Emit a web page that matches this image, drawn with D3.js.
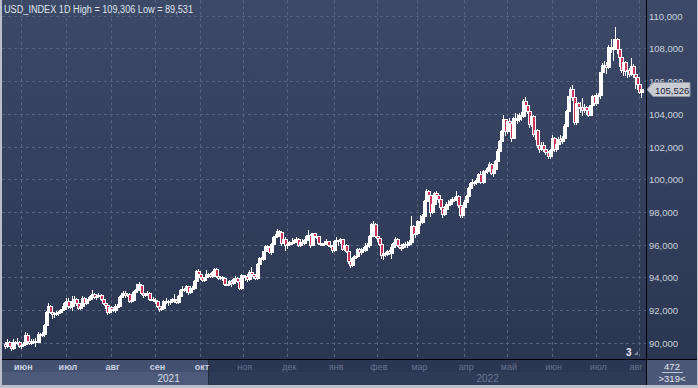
<!DOCTYPE html>
<html><head><meta charset="utf-8">
<script src="https://cdn.jsdelivr.net/npm/d3@7"></script>
<style>html,body{margin:0;padding:0;background:#2d3854;overflow:hidden}svg{display:block}</style>
</head><body>
<svg id="c" width="698" height="388"></svg>
<script>
const symbol = "USD_INDEX";
const period = "1D";
const monthNames = ["янв","фев","мар","апр","май","июн","июл","авг","сен","окт","ноя","дек"];
const yTicks = [90,92,94,96,98,100,102,104,106,108,110];
const barCountTotal = "472";
const barCountVisible = ">319<";
const markerLabel = "3";

const opens = [
89.95,89.78,90.02,89.81,89.65,90.06,89.96,90.03,
89.80,89.87,89.90,90.50,90.13,90.00,90.09,90.10,90.07,90.55,90.52,90.54,91.11,91.90,92.23,91.88,91.73,91.80,91.83,91.85,92.03,92.06,
92.44,92.58,92.23,92.22,92.55,92.67,92.41,92.13,92.23,92.74,92.41,92.65,92.68,92.87,92.97,92.79,92.84,92.91,92.65,92.43,92.29,91.86,
92.17,92.05,92.03,92.27,92.25,92.80,92.94,93.06,92.92,92.97,92.53,92.62,93.13,93.22,93.56,93.50,93.01,92.90,92.99,93.06,92.68,92.67,
92.63,92.53,92.23,92.04,92.13,92.53,92.54,92.49,92.58,92.66,92.63,92.51,92.86,93.20,93.27,93.21,93.46,93.10,93.32,93.37,93.77,94.37,
94.23,94.04,93.82,94.00,94.23,94.21,94.07,94.31,94.52,94.08,93.97,94.00,93.94,93.61,93.57,93.79,93.64,93.92,93.95,93.80,93.35,
94.13,94.05,94.06,93.89,94.35,94.22,94.05,93.95,94.83,95.16,95.13,95.58,95.91,95.83,95.54,96.03,96.48,96.50,96.83,96.78,96.08,96.36,
95.99,96.03,96.15,96.16,96.28,96.34,95.96,96.16,96.08,96.29,96.55,96.61,95.99,96.68,96.54,96.50,96.08,96.05,96.03,96.10,96.20,95.97,95.94,
95.67,96.21,96.26,96.19,96.32,95.73,95.99,95.60,94.98,94.77,95.17,95.28,95.75,95.52,95.73,95.64,95.90,96.00,96.54,97.25,97.27,
96.54,96.38,96.03,95.39,95.48,95.43,95.63,95.50,95.83,96.07,96.34,95.99,95.85,95.87,96.04,96.02,96.04,96.17,97.13,96.62,
96.71,97.43,97.40,97.77,98.66,99.30,99.06,97.98,98.47,99.13,99.02,98.78,98.27,97.87,98.20,98.47,98.46,98.64,98.81,98.79,98.98,98.40,97.81,
98.31,98.61,99.00,99.48,99.75,99.82,99.84,99.94,100.30,99.82,100.50,100.48,100.66,100.96,100.39,100.64,101.14,101.74,102.35,102.96,103.67,
102.96,103.56,103.45,102.53,103.75,103.66,103.67,103.91,103.87,104.80,104.56,104.19,103.35,103.84,102.79,103.03,102.07,101.86,102.09,101.83,101.67,101.42,
101.76,102.55,101.83,102.14,102.44,102.34,102.55,103.25,104.15,105.07,105.52,105.05,103.48,104.67,104.44,104.44,104.22,104.43,104.21,103.94,104.51,105.10,
104.69,105.14,105.13,106.53,106.98,107.01,106.89,108.10,108.05,108.04,108.55,107.97,107.46,106.70,107.16,106.61,106.68,106.46,106.92,106.43,106.27,
105.84,105.36
];
const highs = [
90.05,90.20,90.10,89.92,90.20,90.12,90.30,90.08,
89.95,90.07,90.63,90.59,90.17,90.21,90.22,90.30,90.63,90.61,90.64,91.17,91.94,92.41,92.29,91.97,91.89,91.92,91.92,92.08,92.22,92.49,
92.72,92.74,92.30,92.84,92.83,92.73,92.49,92.29,92.84,92.79,92.72,92.80,92.94,93.20,93.05,92.95,93.02,92.98,92.73,92.55,92.31,92.24,
92.24,92.14,92.39,92.35,92.87,93.01,93.19,93.19,93.04,93.01,92.70,93.17,93.28,93.62,93.73,93.55,93.05,93.07,93.14,93.10,92.80,92.78,
92.72,92.55,92.27,92.18,92.60,92.75,92.60,92.66,92.72,92.98,92.70,92.93,93.30,93.45,93.36,93.53,93.49,93.45,93.48,93.82,94.45,94.50,
94.29,94.08,94.04,94.45,94.28,94.25,94.37,94.56,94.54,94.10,94.10,94.05,93.98,93.70,93.86,93.82,93.96,94.08,94.00,93.88,94.18,
94.17,94.15,94.20,94.45,94.63,94.29,94.10,94.90,95.25,95.27,95.60,95.99,96.00,95.88,96.10,96.55,96.63,96.94,96.88,96.80,96.43,96.45,
96.10,96.25,96.42,96.34,96.45,96.38,96.27,96.33,96.35,96.60,96.90,96.64,96.73,96.72,96.60,96.55,96.15,96.12,96.20,96.35,96.25,96.15,96.00,
96.30,96.46,96.30,96.40,96.35,96.10,96.05,95.65,95.08,95.25,95.35,95.80,95.80,95.80,95.85,96.10,96.10,96.60,97.30,97.44,97.30,
96.65,96.45,96.10,95.60,95.55,95.70,95.70,96.05,96.15,96.45,96.40,96.02,96.05,96.10,96.15,96.25,96.30,97.74,97.20,96.95,
97.50,97.80,97.85,98.70,99.42,99.35,99.10,98.60,99.20,99.25,99.10,98.95,98.30,98.35,98.60,98.75,98.80,98.90,98.90,99.25,99.05,98.45,98.40,
98.75,99.05,99.55,99.80,100.00,99.90,100.08,100.40,100.50,100.55,100.55,100.75,101.05,100.98,100.80,101.20,101.85,102.40,103.00,103.93,103.70,
103.65,103.75,103.55,103.80,104.07,104.00,104.05,104.10,104.93,105.01,104.63,104.25,103.95,103.90,103.20,103.05,102.20,102.30,102.25,101.90,101.70,101.85,
102.73,102.60,102.30,102.60,102.70,102.65,103.35,104.25,105.10,105.65,105.79,105.10,104.80,104.75,104.70,104.95,104.60,104.50,104.25,104.55,105.18,105.15,
105.30,105.25,106.55,107.10,107.20,107.15,108.20,108.60,108.60,109.306,108.65,108.00,107.55,107.30,107.20,107.00,106.80,107.40,107.05,106.65,106.30,
105.95,105.65
];
const lows = [
89.69,89.74,89.77,89.531,89.62,89.88,89.89,89.74,
89.67,89.80,89.86,90.02,89.92,89.95,89.97,89.80,90.03,90.42,90.40,90.43,91.05,91.80,91.80,91.51,91.60,91.70,91.68,91.80,91.94,92.00,
92.38,92.10,92.15,92.00,92.48,92.31,92.08,92.05,92.18,92.30,92.34,92.57,92.63,92.82,92.72,92.65,92.78,92.59,92.35,92.15,91.78,91.80,
91.94,91.93,91.90,92.10,92.18,92.75,92.88,92.80,92.83,92.47,92.46,92.55,93.00,93.16,93.40,92.95,92.82,92.83,92.90,92.60,92.60,92.53,
92.44,92.17,91.94,92.00,92.10,92.45,92.30,92.38,92.50,92.50,92.42,92.45,92.80,93.10,93.15,93.08,92.98,93.05,93.20,93.30,93.72,94.10,
93.91,93.78,93.75,93.97,94.12,94.00,94.04,94.28,94.00,93.87,93.90,93.86,93.50,93.50,93.55,93.49,93.60,93.80,93.70,93.28,93.30,
93.95,93.85,93.80,93.86,94.10,93.98,93.87,93.90,94.80,95.05,95.08,95.50,95.78,95.50,95.45,95.95,96.40,96.45,96.70,96.00,96.10,95.70,
95.80,95.98,96.05,96.10,96.25,95.90,95.90,96.00,96.05,96.20,96.30,95.85,95.95,96.45,96.38,96.03,95.95,95.98,96.00,96.08,95.90,95.85,95.53,
95.60,96.10,95.95,96.10,95.70,95.65,95.55,94.90,94.63,94.68,95.10,95.25,95.45,95.45,95.58,95.60,95.80,95.85,96.50,97.10,96.45,
96.20,95.97,95.17,95.14,95.30,95.38,95.45,95.20,95.75,96.00,95.92,95.78,95.70,95.80,95.90,95.85,95.95,96.10,96.55,96.45,
96.65,97.20,97.30,97.72,98.60,98.80,97.75,97.95,98.40,98.85,98.60,98.20,97.70,97.80,98.15,98.35,98.40,98.55,98.65,98.70,98.30,97.70,97.68,
98.25,98.55,98.95,99.35,99.55,99.65,99.70,99.85,99.78,99.75,100.35,100.40,100.60,100.30,100.20,100.55,101.05,101.65,102.30,102.90,102.70,
102.85,103.30,102.35,102.50,103.40,103.45,103.55,103.60,103.80,104.45,104.05,103.20,103.25,102.65,102.45,101.95,101.65,101.80,101.75,101.55,101.30,101.30,
101.70,101.75,101.75,102.10,102.15,102.20,102.45,102.95,104.10,104.90,104.85,103.40,103.40,104.25,104.10,103.95,104.10,104.00,103.85,103.90,104.45,104.60,
104.55,104.95,104.95,106.25,106.70,106.50,106.80,107.80,107.30,107.95,107.70,106.95,106.55,106.35,106.40,106.25,106.30,106.40,106.25,105.55,105.50,
105.25,105.05
];
const closes = [
89.78,90.02,89.81,89.65,90.06,89.96,90.03,89.80,
89.87,89.90,90.50,90.13,90.00,90.09,90.10,90.07,90.55,90.52,90.54,91.11,91.90,92.23,91.88,91.73,91.80,91.83,91.85,92.03,92.06,92.44,
92.58,92.23,92.22,92.55,92.67,92.41,92.13,92.23,92.74,92.41,92.65,92.68,92.87,92.97,92.79,92.84,92.91,92.65,92.43,92.29,91.86,92.17,
92.05,92.03,92.27,92.25,92.80,92.94,93.06,92.92,92.97,92.53,92.62,93.13,93.22,93.56,93.50,93.01,92.90,92.99,93.06,92.68,92.67,92.63,
92.53,92.23,92.04,92.13,92.53,92.54,92.49,92.58,92.66,92.63,92.51,92.86,93.20,93.27,93.21,93.46,93.10,93.32,93.37,93.77,94.37,94.23,
94.04,93.82,94.00,94.23,94.21,94.07,94.31,94.52,94.08,93.97,94.00,93.94,93.61,93.57,93.79,93.64,93.92,93.95,93.80,93.35,94.13,
94.05,94.06,93.89,94.35,94.22,94.05,93.95,94.83,95.16,95.13,95.58,95.91,95.83,95.54,96.03,96.48,96.50,96.83,96.78,96.08,96.36,95.99,
96.03,96.15,96.16,96.28,96.34,95.96,96.16,96.08,96.29,96.55,96.61,95.99,96.68,96.54,96.50,96.08,96.05,96.03,96.10,96.20,95.97,95.94,95.67,
96.21,96.26,96.19,96.32,95.73,95.99,95.60,94.98,94.77,95.17,95.28,95.75,95.52,95.73,95.64,95.90,96.00,96.54,97.25,97.27,96.54,
96.38,96.03,95.39,95.48,95.43,95.63,95.50,95.83,96.07,96.34,95.99,95.85,95.87,96.04,96.02,96.04,96.17,97.13,96.62,96.71,
97.43,97.40,97.77,98.66,99.30,99.06,97.98,98.47,99.13,99.02,98.78,98.27,97.87,98.20,98.47,98.46,98.64,98.81,98.79,98.98,98.40,97.81,98.31,
98.61,99.00,99.48,99.75,99.82,99.84,99.94,100.30,99.82,100.50,100.48,100.66,100.96,100.39,100.64,101.14,101.74,102.35,102.96,103.67,102.96,
103.56,103.45,102.53,103.75,103.66,103.67,103.91,103.87,104.80,104.56,104.19,103.35,103.84,102.79,103.03,102.07,101.86,102.09,101.83,101.67,101.42,101.76,
102.55,101.83,102.14,102.44,102.34,102.55,103.25,104.15,105.07,105.52,105.05,103.48,104.67,104.44,104.44,104.22,104.43,104.21,103.94,104.51,105.10,104.69,
105.14,105.13,106.53,106.98,107.01,106.89,108.10,108.05,108.04,108.55,107.97,107.46,106.70,107.16,106.61,106.68,106.46,106.92,106.43,106.27,105.84,
105.36,105.526
];

// trading days (weekdays) from 20 May 2021 to 2 Aug 2022
const dates = d3.timeDay.range(new Date(2021,4,20), new Date(2022,7,3)).filter(d => d.getDay() % 6 !== 0);
const bars = dates.map((d,i) => ({d, o:opens[i], h:highs[i], l:lows[i], c:closes[i]}));

const W = 698, H = 388;
const plotR = 646, axisY = 359;
const loc = d3.formatLocale({decimal:",", thousands:" ", grouping:[3], currency:["",""]});
const fmt = loc.format(".3f");
const axisFont = "Liberation Sans, Arial, sans-serif";

const svg = d3.select("#c");
const defs = svg.append("defs");
const g1 = defs.append("linearGradient").attr("id","bg").attr("x1",0).attr("y1",0).attr("x2",0).attr("y2",1);
g1.append("stop").attr("offset","0%").attr("stop-color","#3c4967");
g1.append("stop").attr("offset","100%").attr("stop-color","#2b3652");
defs.append("clipPath").attr("id","plotclip").append("rect").attr("x",2).attr("y",0).attr("width",plotR-2).attr("height",axisY);

svg.append("rect").attr("x",0).attr("y",0).attr("width",W).attr("height",H).attr("fill","#2d3854");
svg.append("rect").attr("x",2).attr("y",0).attr("width",W-3).attr("height",axisY).attr("fill","url(#bg)");

const x = d3.scaleBand().domain(d3.range(bars.length)).range([4, 642]).padding(0);
const cx = i => x(i) + x.bandwidth()/2;
const y = d3.scaleLinear().domain([90,110]).range([342.7, 15.7]);

// month starts
const monthStarts = [];
bars.forEach((b,i) => { if (i > 0 && b.d.getMonth() !== bars[i-1].d.getMonth()) monthStarts.push(i); });

// grid
const grid = svg.append("g").attr("stroke","#56637f").attr("stroke-width",1).attr("stroke-dasharray","3,3").attr("shape-rendering","crispEdges");
yTicks.forEach(t => {
  grid.append("line").attr("x1",2).attr("x2",plotR).attr("y1",Math.round(y(t))+0.5).attr("y2",Math.round(y(t))+0.5);
});
monthStarts.forEach(i => {
  const xx = Math.round(cx(i)) + 0.5;
  grid.append("line").attr("x1",xx).attr("x2",xx).attr("y1",0).attr("y2",axisY);
});

// candles
const cg = svg.append("g").attr("shape-rendering","crispEdges").attr("clip-path","url(#plotclip)");
bars.forEach((b,i) => {
  const xc = Math.round(cx(i));
  cg.append("line").attr("x1",xc+0.5).attr("x2",xc+0.5)
    .attr("y1",Math.round(y(b.h))).attr("y2",Math.round(y(b.l))+1)
    .attr("stroke","#ffffff").attr("stroke-width",1);
  const top = Math.round(y(Math.max(b.o,b.c)));
  const bot = Math.round(y(Math.min(b.o,b.c)));
  cg.append("rect").attr("x",xc-0.5).attr("y",top+0.5)
    .attr("width",3).attr("height",Math.max(1, bot-top))
    .attr("fill", b.c < b.o ? "#c8345a" : "#ffffff")
    .attr("stroke","#ffffff").attr("stroke-width",1);
});

// title
svg.append("text").attr("x",4).attr("y",13)
  .attr("font-family",axisFont).attr("font-size",10)
  .attr("fill","#dfe4ee").attr("textLength",189).attr("lengthAdjust","spacingAndGlyphs")
  .text(`${symbol} ${period} High = ${fmt(d3.max(highs))} Low = ${fmt(d3.min(lows))}`);

// "3" marker label
svg.append("text").attr("x",626).attr("y",356).attr("font-family",axisFont)
  .attr("font-size",10).attr("font-weight","bold").attr("fill","#e8ecf4").text(markerLabel);
svg.append("path").attr("d","M634,355 L638,355 L638,351 Z").attr("fill","#7d8aa4");

// time axis area
const monthRowY = 360, yearRowY = 372, axisBottom = 385;
const brightEnd = 208;
svg.append("rect").attr("x",2).attr("y",monthRowY).attr("width",plotR-2).attr("height",axisBottom-monthRowY).attr("fill","#2b3652");
svg.append("rect").attr("x",2).attr("y",yearRowY).attr("width",plotR-2).attr("height",axisBottom-yearRowY).attr("fill","#2f3a56");
svg.append("rect").attr("x",2).attr("y",monthRowY).attr("width",brightEnd-2).attr("height",yearRowY-monthRowY).attr("fill","#435070");
svg.append("rect").attr("x",2).attr("y",yearRowY).attr("width",brightEnd-2).attr("height",axisBottom-yearRowY).attr("fill","#4d5a79");
svg.append("line").attr("x1",brightEnd+0.5).attr("x2",brightEnd+0.5).attr("y1",monthRowY).attr("y2",axisBottom).attr("stroke","#222b40").attr("stroke-width",1);

monthStarts.forEach(i => {
  const xx = Math.min(cx(i) + 2, plotR - 10);
  svg.append("text").attr("x",xx).attr("y",370).attr("text-anchor","middle")
    .attr("font-family",axisFont).attr("font-size",9)
    .attr("font-weight", xx < brightEnd ? "bold" : "normal")
    .attr("fill", xx < brightEnd ? "#c9d2e2" : "#66738f")
    .text(monthNames[bars[i].d.getMonth()]);
});
const years = Array.from(new Set(bars.map(b => b.d.getFullYear())));
years.forEach(yr => {
  const idx = bars.map((b,i)=>b.d.getFullYear()===yr ? i : -1).filter(i=>i>=0);
  const xm = (cx(idx[0]) + cx(idx[idx.length-1])) / 2;
  svg.append("text").attr("x",xm).attr("y",382).attr("text-anchor","middle")
    .attr("font-family",axisFont).attr("font-size",10)
    .attr("fill", xm < brightEnd ? "#d5dcea" : "#6a7793")
    .text(yr);
});

// y-axis labels
yTicks.forEach(t => {
  svg.append("text").attr("x",649).attr("y",y(t)+4)
    .attr("font-family",axisFont).attr("font-size",9.5).attr("fill","#c9d1de")
    .text(fmt(t));
});

// price marker
const last = bars[bars.length-1];
const py = Math.round(y(last.c)) + 0.5;
svg.append("path").attr("d",`M647,${py} L653,${py-7} L690,${py-7} L690,${py+7} L653,${py+7} Z`)
  .attr("fill","#c9ccd3").attr("stroke","#8b92a3").attr("stroke-width",1);
svg.append("text").attr("x",655).attr("y",py+4)
  .attr("font-family",axisFont).attr("font-size",9.5).attr("fill","#1b2338")
  .text(fmt(last.c));

// bottom-right box
svg.append("rect").attr("x",647).attr("y",360).attr("width",50).attr("height",25).attr("fill","#4a5777");
svg.append("text").attr("x",672).attr("y",370).attr("text-anchor","middle")
  .attr("font-family",axisFont).attr("font-size",9.5).attr("fill","#e2e7f0").text(barCountTotal);
svg.append("line").attr("x1",662).attr("x2",683).attr("y1",372.5).attr("y2",372.5).attr("stroke","#c0c8d8");
svg.append("text").attr("x",672).attr("y",382).attr("text-anchor","middle")
  .attr("font-family",axisFont).attr("font-size",9.5).attr("fill","#e2e7f0").text(barCountVisible);

// black separators
svg.append("line").attr("x1",plotR+0.5).attr("x2",plotR+0.5).attr("y1",0).attr("y2",386).attr("stroke","#000").attr("stroke-width",1);
svg.append("line").attr("x1",0).attr("x2",W).attr("y1",axisY+0.5).attr("y2",axisY+0.5).attr("stroke","#000").attr("stroke-width",1);

// outer frame
svg.append("rect").attr("x",0).attr("y",0).attr("width",2).attr("height",H).attr("fill","#b9bec8");
svg.append("rect").attr("x",0).attr("y",385).attr("width",W).attr("height",3).attr("fill","#b9bec8");
svg.append("rect").attr("x",W-1).attr("y",0).attr("width",1).attr("height",H).attr("fill","#b9bec8");
</script>
</body></html>
